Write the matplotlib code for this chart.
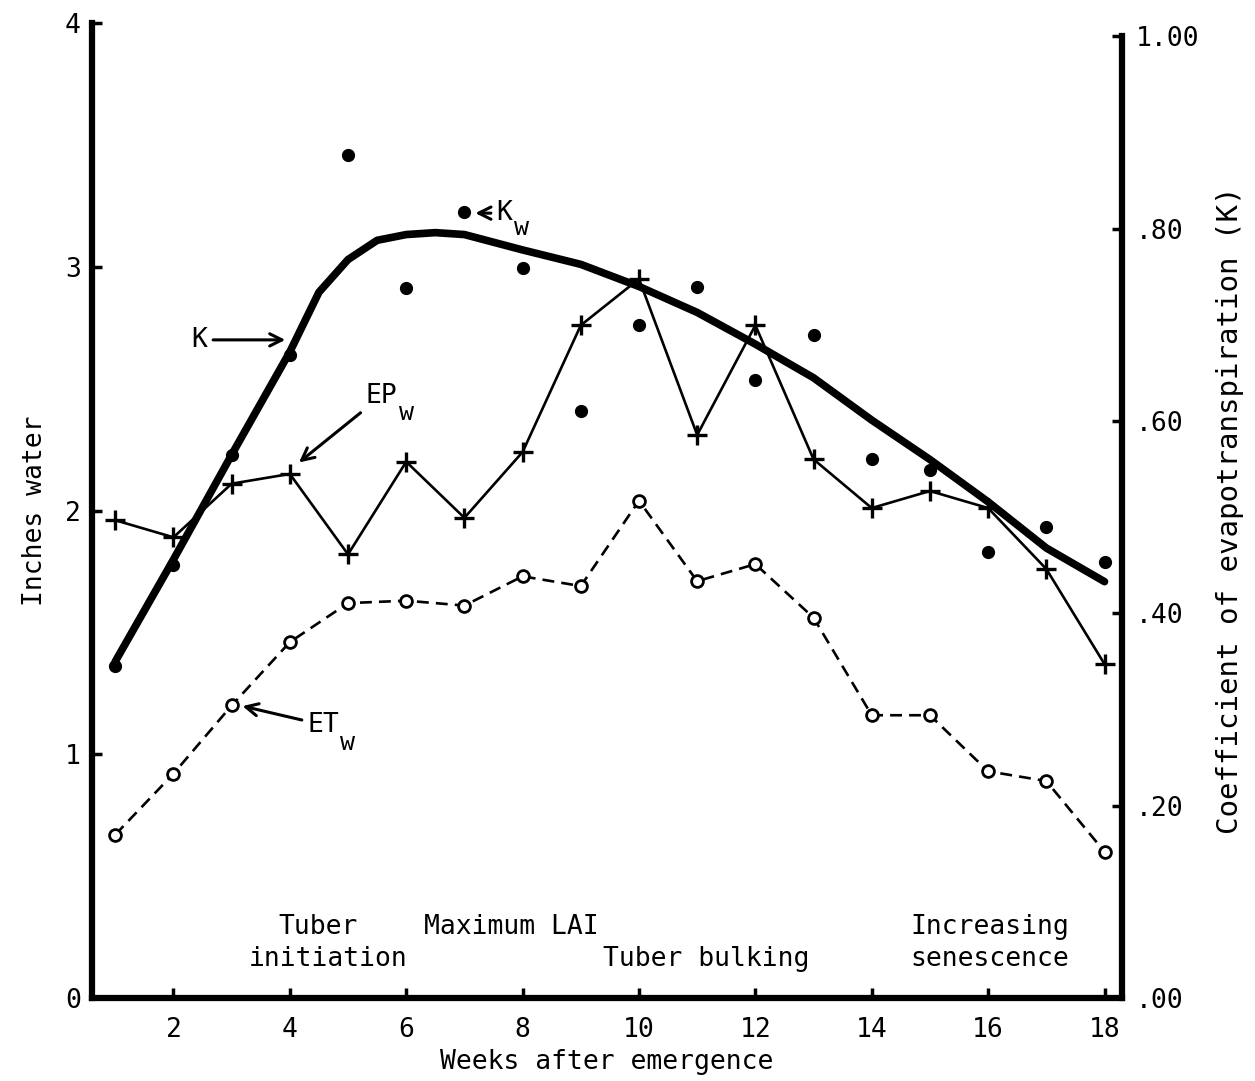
import matplotlib
matplotlib.use("Agg")
import matplotlib.pyplot as plt

plt.rcParams['font.family'] = ['DejaVu Sans Mono', 'DejaVu Sans']

# weeks after emergence
weeks = [1, 2, 3, 4, 5, 6, 7, 8, 9, 10, 11, 12, 13, 14, 15, 16, 17, 18]

# EP_w, inches water (left axis)
ep_w = [1.96, 1.89, 2.11, 2.15, 1.82, 2.20, 1.97, 2.24, 2.76, 2.95,
        2.31, 2.76, 2.21, 2.01, 2.08, 2.01, 1.76, 1.37]

# ET_w, inches water (left axis)
et_w = [0.67, 0.92, 1.20, 1.46, 1.62, 1.63, 1.61, 1.73, 1.69, 2.04,
        1.71, 1.78, 1.56, 1.16, 1.16, 0.93, 0.89, 0.60]

# K_w weekly coefficients (right axis)
k_w = [0.345, 0.45, 0.565, 0.669, 0.877, 0.738, 0.817, 0.759, 0.611, 0.700,
       0.739, 0.643, 0.690, 0.561, 0.549, 0.464, 0.490, 0.453]

# fitted K curve (right axis)
k_weeks = [1, 2, 3, 4, 4.5, 5, 5.5, 6, 6.5, 7, 8, 9, 10, 11, 12, 13, 14, 15, 16, 17, 18]
k_fit = [0.350, 0.456, 0.565, 0.672, 0.734, 0.768, 0.788, 0.794, 0.796, 0.794,
         0.778, 0.763, 0.740, 0.713, 0.680, 0.645, 0.601, 0.560, 0.516, 0.468, 0.433]

xticks = [2, 4, 6, 8, 10, 12, 14, 16, 18]
left_ticks = [0, 1, 2, 3, 4]
right_ticks = [0.0, 0.2, 0.4, 0.6, 0.8, 1.0]
right_labels = ['.00', '.20', '.40', '.60', '.80', '1.00']

fig = plt.figure(figsize=(12.55, 10.81), dpi=100)
ax = fig.add_axes([0.0733, 0.0768, 0.8207, 0.9019])
ax2 = ax.twinx()

ax.set_xlim(0.6, 18.3)
ax.set_ylim(0, 4.0)
ax2.set_ylim(0, 1.014)

# EP_w: thin solid with crosses
ax.plot(weeks, ep_w, color='black', lw=1.9, marker='+', ms=15, mew=2.4, zorder=3)
# ET_w: dashed with open circles
ax.plot(weeks, et_w, color='black', lw=1.9, ls=(0, (4.5, 2.7)), marker='o', ms=8.5,
        mfc='white', mec='black', mew=2.0, zorder=3)
# K curve and K_w dots
ax2.plot(k_weeks, k_fit, color='black', lw=5.5, solid_capstyle='round',
         solid_joinstyle='round', zorder=3)
ax2.plot(weeks, k_w, ls='none', marker='o', ms=8.5, color='black', zorder=4)

# spines
for s in ['top', 'right']:
    ax.spines[s].set_visible(False)
for s in ['top', 'left', 'bottom']:
    ax2.spines[s].set_visible(False)
ax.spines['left'].set_linewidth(4.5)
ax.spines['bottom'].set_linewidth(4.5)
ax2.spines['right'].set_linewidth(4.5)
ax2.spines['right'].set_bounds(0, 1.0)

ax.set_xticks(xticks)
ax.set_xticklabels([str(t) for t in xticks])
ax.set_yticks(left_ticks)
ax.set_yticklabels([str(t) for t in left_ticks])
ax2.set_yticks(right_ticks)
ax2.set_yticklabels(right_labels)

ax.tick_params(axis='x', direction='in', length=7, width=2.5, labelsize=19, pad=14)
ax.tick_params(axis='y', direction='in', length=7, width=2.5, labelsize=19, pad=8)
ax2.tick_params(axis='y', direction='in', length=7, width=2.5, labelsize=19, pad=10)

ax.set_xlabel('Weeks after emergence', fontsize=19, labelpad=4)
ax.set_ylabel('Inches water', fontsize=19, labelpad=12)
ax2.set_ylabel('Coefficient of evapotranspiration (K)', fontsize=21, labelpad=12)

# annotations (positions in left-axis data units)
arrow = dict(arrowstyle='->', color='black', lw=2.2, mutation_scale=22)


def label_w(base, xy, xytext, drop=11):
    # typewriter-style subscript: a nearly full-size "w" dropped below the baseline
    ax.annotate(base, xy=xy, xytext=xytext, fontsize=19,
                ha='left', va='center', arrowprops=arrow)
    ax.annotate('w', xy=xytext, xycoords='data',
                xytext=(len(base) * 0.602 * 19 + 1, -drop),
                textcoords='offset points', fontsize=18, ha='left', va='center')


ax.annotate('K', xy=(3.97, 2.70), xytext=(2.45, 2.70), fontsize=19,
            ha='center', va='center', arrowprops=arrow)
label_w('EP', xy=(4.12, 2.19), xytext=(5.3, 2.47), drop=12)
label_w('K', xy=(7.14, 3.22), xytext=(7.55, 3.22), drop=11)
label_w('ET', xy=(3.14, 1.20), xytext=(4.3, 1.12), drop=13)

# growth stage labels
ax.text(4.48, 0.29, 'Tuber', fontsize=19, ha='center', va='center')
ax.text(4.65, 0.16, 'initiation', fontsize=19, ha='center', va='center')
ax.text(7.8, 0.29, 'Maximum LAI', fontsize=19, ha='center', va='center')
ax.text(11.15, 0.16, 'Tuber bulking', fontsize=19, ha='center', va='center')
ax.text(16.03, 0.29, 'Increasing', fontsize=19, ha='center', va='center')
ax.text(16.03, 0.16, 'senescence', fontsize=19, ha='center', va='center')

fig.savefig('out.png', dpi=100)
